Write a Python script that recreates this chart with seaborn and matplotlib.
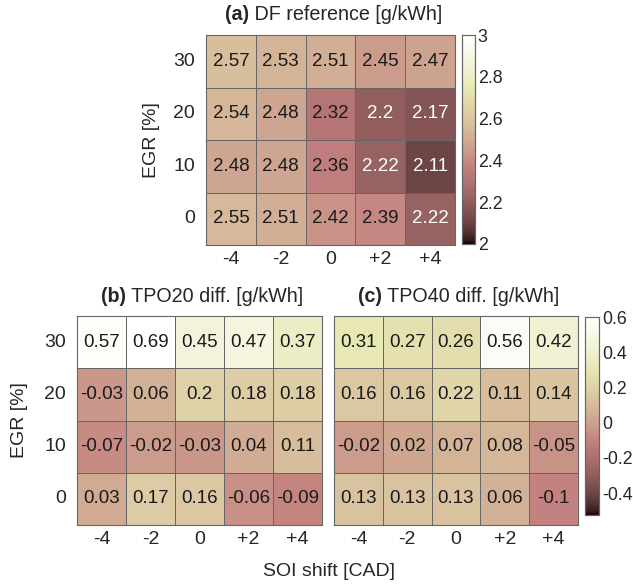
import numpy as np
import pandas as pd
import matplotlib
matplotlib.use("Agg")
import matplotlib.pyplot as plt
import seaborn as sns

sns.set_theme(style="white")
plt.rcParams['font.family'] = ['Liberation Sans', 'DejaVu Sans']

soi_labels = ["-4", "-2", "0", "+2", "+4"]
egr_labels = ["30", "20", "10", "0"]

df_ref = [[2.57, 2.53, 2.51, 2.45, 2.47],
          [2.54, 2.48, 2.32, 2.2, 2.17],
          [2.48, 2.48, 2.36, 2.22, 2.11],
          [2.55, 2.51, 2.42, 2.39, 2.22]]
tpo20_diff = [[0.57, 0.69, 0.45, 0.47, 0.37],
              [-0.03, 0.06, 0.2, 0.18, 0.18],
              [-0.07, -0.02, -0.03, 0.04, 0.11],
              [0.03, 0.17, 0.16, -0.06, -0.09]]
tpo40_diff = [[0.31, 0.27, 0.26, 0.56, 0.42],
              [0.16, 0.16, 0.22, 0.11, 0.14],
              [-0.02, 0.02, 0.07, 0.08, -0.05],
              [0.13, 0.13, 0.13, 0.06, -0.1]]

titles = [("(a)", " DF reference [g/kWh]"),
          ("(b)", " TPO20 diff. [g/kWh]"),
          ("(c)", " TPO40 diff. [g/kWh]")]

W, H = 633, 584
FS_CELL = 13.5
FS_TICK = 14
FS_LABEL = 14
FS_TITLE = 14.2
FS_CBAR = 12.8
TC = '#262626'
fig = plt.figure(figsize=(W / 100, H / 100), dpi=100)


def box(x0, y0, x1, y1):
    return [x0 / W, 1 - y1 / H, (x1 - x0) / W, (y1 - y0) / H]


ax_a = fig.add_axes(box(206, 35, 455, 245))
cax_a = fig.add_axes(box(462, 35, 475, 244))
ax_b = fig.add_axes(box(77, 316, 322, 525))
ax_c = fig.add_axes(box(334, 316, 578, 525))
cax_bc = fig.add_axes(box(585, 317, 599, 515))


def draw(ax, data, vmin, vmax, cax, cbar, white_below=None):
    frame = pd.DataFrame(data, index=egr_labels, columns=soi_labels)
    sns.heatmap(frame, ax=ax, cmap='pink', vmin=vmin, vmax=vmax,
                annot=True, fmt='g', annot_kws={'fontsize': FS_CELL},
                linewidths=0.5, linecolor='#666666',
                cbar=cbar, cbar_ax=cax if cbar else None)
    vals = np.array(data).ravel()
    for t, v in zip(ax.texts, vals):
        if white_below is not None and v < white_below:
            t.set_color('white')
        else:
            t.set_color('#1a1a1a')
    for s in ax.spines.values():
        s.set_visible(True)
        s.set_color('#666666')
        s.set_linewidth(0.8)
    ax.tick_params(axis='y', length=0, labelsize=FS_TICK, labelcolor=TC, pad=8)
    ax.tick_params(axis='x', length=0, labelsize=FS_TICK, labelcolor=TC, pad=4)
    ax.set_yticklabels(ax.get_yticklabels(), rotation=0)
    ax.set_xticklabels(ax.get_xticklabels(), rotation=0)
    ax.set_xlabel('')
    ax.set_ylabel('')


draw(ax_a, df_ref, 2.0, 3.0, cax_a, True, white_below=2.3)
draw(ax_b, tpo20_diff, -0.525, 0.6, None, False)
draw(ax_c, tpo40_diff, -0.525, 0.6, cax_bc, True)
ax_c.set_yticklabels([])
ax_c.set_yticks([])

cax_a.set_yticks([2, 2.2, 2.4, 2.6, 2.8, 3])
cax_a.set_yticklabels(['2', '2.2', '2.4', '2.6', '2.8', '3'])
cax_bc.set_yticks([-0.4, -0.2, 0, 0.2, 0.4, 0.6])
cax_bc.set_yticklabels(['-0.4', '-0.2', '0', '0.2', '0.4', '0.6'])
for cax in (cax_a, cax_bc):
    cax.tick_params(axis='y', length=3, direction='in', width=0.6,
                    color='#666666', labelsize=FS_CBAR, labelcolor=TC, pad=2)
    for s in cax.spines.values():
        s.set_visible(True)
        s.set_color('#666666')
        s.set_linewidth(0.8)

fig.text(152 / W, 1 - 140 / H, 'EGR [%]', fontsize=FS_LABEL, color=TC,
         ha='center', va='center', rotation=90)
fig.text(20 / W, 1 - 420 / H, 'EGR [%]', fontsize=FS_LABEL, color=TC,
         ha='center', va='center', rotation=90)
fig.text(329 / W, 1 - 572 / H, 'SOI shift [CAD]', fontsize=FS_LABEL, color=TC,
         ha='center', va='center')

# titles with bold prefix
fig.canvas.draw()
renderer = fig.canvas.get_renderer()
for ax, (bold, rest), yc in zip((ax_a, ax_b, ax_c), titles, (14, 296, 296)):
    t1 = fig.text(0, 1 - yc / H, bold, fontsize=FS_TITLE, fontweight='bold',
                  color=TC, ha='left', va='center')
    t2 = fig.text(0, 1 - yc / H, rest, fontsize=FS_TITLE, color=TC,
                  ha='left', va='center')
    w1 = t1.get_window_extent(renderer).width
    w2 = t2.get_window_extent(renderer).width
    bb = ax.get_window_extent(renderer)
    cx = (bb.x0 + bb.x1) / 2 + 3
    x0 = cx - (w1 + w2) / 2
    t1.set_x(x0 / fig.bbox.width)
    t2.set_x((x0 + w1) / fig.bbox.width)

fig.savefig('out.png', dpi=100)
